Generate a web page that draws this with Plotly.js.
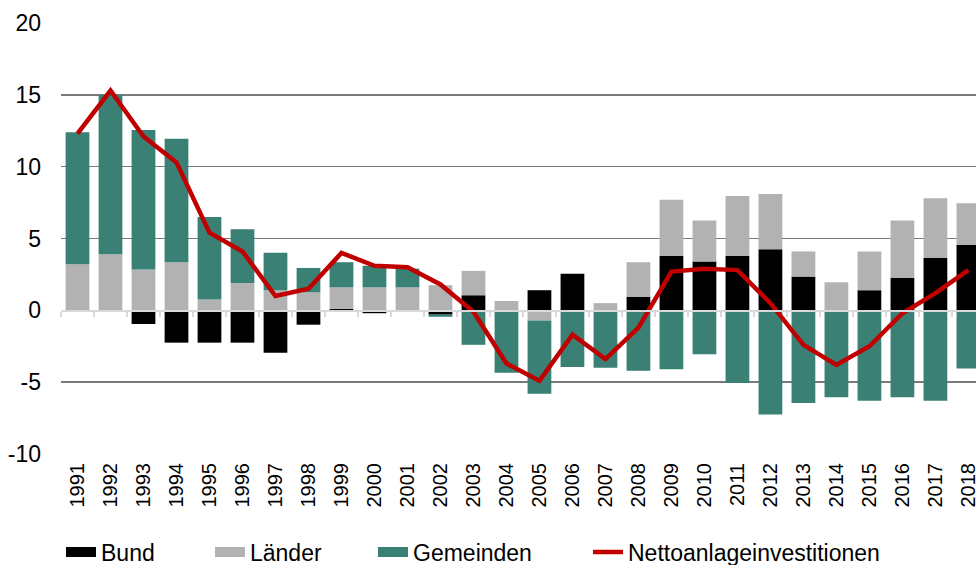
<!DOCTYPE html>
<html>
<head>
<meta charset="utf-8">
<script src="https://cdn.plot.ly/plotly-3.0.1.min.js"></script>
<style>html,body{margin:0;padding:0;background:#fff;}#chart{width:976px;height:565px;}</style>
</head>
<body>
<div id="chart"></div>
<script>
var years = ["1991","1992","1993","1994","1995","1996","1997","1998","1999","2000","2001","2002","2003","2004","2005","2006","2007","2008","2009","2010","2011","2012","2013","2014","2015","2016","2017","2018"];
var bund = [0, 0, -0.95, -2.25, -2.25, -2.25, -2.95, -1.0, 0.1, -0.2, 0, -0.3, 1.05, 0, 1.4, 2.55, 0, 0.95, 3.8, 3.4, 3.8, 4.25, 2.35, 0, 1.4, 2.25, 3.65, 4.55];
var laender = [3.2, 3.9, 2.85, 3.35, 0.75, 1.9, 1.4, 1.25, 1.5, 1.6, 1.6, 1.75, 1.7, 0.65, -0.7, 0, 0.5, 2.4, 3.9, 2.85, 4.15, 3.85, 1.75, 1.95, 2.7, 4.0, 4.15, 2.9];
var gemeinden = [9.2, 11.1, 9.7, 8.6, 5.75, 3.75, 2.6, 1.7, 1.75, 1.5, 1.3, -0.15, -2.4, -4.35, -5.1, -3.95, -4.0, -4.2, -4.1, -3.05, -5.05, -7.25, -6.45, -6.05, -6.3, -6.05, -6.3, -4.05];
var netto = [12.3, 15.3, 12.1, 10.3, 5.4, 4.1, 1.0, 1.5, 4.0, 3.1, 3.0, 1.8, -0.1, -3.7, -4.9, -1.7, -3.4, -1.2, 2.7, 2.9, 2.8, 0.5, -2.4, -3.8, -2.5, -0.2, 1.2, 2.8];
var yTicks = [-10, -5, 0, 5, 10, 15, 20];

var cBund = "#000000", cLaender = "#b2b2b2", cGem = "#3a8075", cNetto = "#c00000";
var fontFam = "Liberation Sans, Arial, sans-serif";

var traces = [
  {type: "bar", name: "Bund", x: years, y: bund, marker: {color: cBund}, showlegend: false, hoverinfo: "x+y+name"},
  {type: "bar", name: "Länder", x: years, y: laender, marker: {color: cLaender}, showlegend: false},
  {type: "bar", name: "Gemeinden", x: years, y: gemeinden, marker: {color: cGem}, showlegend: false},
  {type: "scatter", mode: "lines", name: "Nettoanlageinvestitionen", x: years, y: netto, xaxis: "x2",
   line: {color: cNetto, width: 4.5}, showlegend: true, legend: "legend4"},
  // legend swatches
  {type: "scatter", mode: "lines", name: "Bund", x: [null], y: [null], line: {color: cBund, width: 13}, legend: "legend", hoverinfo: "skip"},
  {type: "scatter", mode: "lines", name: "Länder", x: [null], y: [null], line: {color: cLaender, width: 13}, legend: "legend2", hoverinfo: "skip"},
  {type: "scatter", mode: "lines", name: "Gemeinden", x: [null], y: [null], line: {color: cGem, width: 13}, legend: "legend3", hoverinfo: "skip"}
];

var xr = [-0.5, 27.23];
function lg(px) {
  return {orientation: "h", xref: "container", yref: "container", x: px / 976, y: 13 / 565,
          xanchor: "left", yanchor: "middle", font: {family: fontFam, size: 23, color: "#000"},
          bgcolor: "rgba(0,0,0,0)", borderwidth: 0};
}

var layout = {
  width: 976, height: 565,
  margin: {l: 61, r: 0, t: 23, b: 111, pad: 0},
  paper_bgcolor: "#fff", plot_bgcolor: "#fff",
  barmode: "relative", bargap: 0.28,
  font: {family: fontFam, color: "#000"},
  xaxis: {type: "category", categoryorder: "array", categoryarray: years, range: xr,
          showgrid: false, zeroline: false, showline: false, ticks: "",
          tickangle: -90, tickfont: {family: fontFam, size: 20, color: "#000"}, ticklabelstandoff: 4},
  xaxis2: {type: "category", categoryorder: "array", categoryarray: years, range: xr,
           overlaying: "x", anchor: "free", position: 1 / 3, side: "bottom",
           showgrid: false, zeroline: false, showline: true, linecolor: "#d9d9d9", linewidth: 1.5,
           ticks: "outside", ticklen: 5, tickwidth: 1.5, tickcolor: "#d9d9d9", tickson: "boundaries",
           showticklabels: false},
  yaxis: {range: [-10, 20], tickvals: yTicks, ticktext: yTicks.map(String),
          showgrid: true, gridcolor: "#7a7a7a", gridwidth: 1.5, zeroline: false,
          showline: false, ticks: "", ticklabelstandoff: 19,
          tickfont: {family: fontFam, size: 23, color: "#000"}},
  legend: lg(61),
  legend2: lg(210),
  legend3: lg(373),
  legend4: lg(588),
  showlegend: true
};

Plotly.newPlot("chart", traces, layout, {displayModeBar: false, staticPlot: true});
</script>
</body>
</html>
